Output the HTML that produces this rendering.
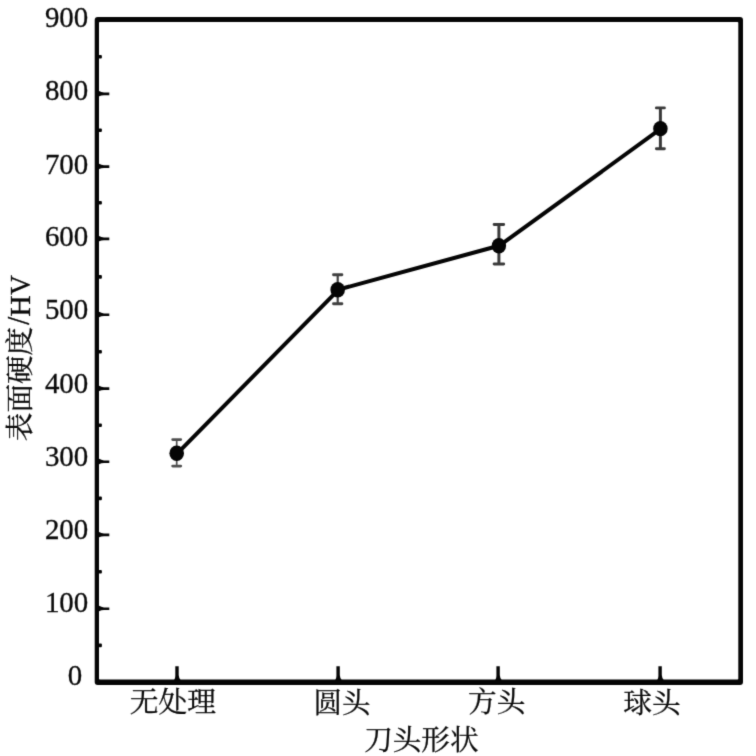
<!DOCTYPE html>
<html lang="zh">
<head>
<meta charset="utf-8">
<title>刀头形状 - 表面硬度/HV</title>
<style>
html,body{margin:0;padding:0;background:#fff;}
body{width:756px;height:756px;overflow:hidden;font-family:"Liberation Serif","Noto Serif CJK SC",serif;}
svg{display:block;}
text{font-family:"Liberation Serif","Noto Serif CJK SC",serif;fill:#0a0a0a;stroke:#0a0a0a;stroke-width:0.3px;}
.num{font-size:29.6px;text-anchor:end;}
.cjk{text-anchor:middle;}
</style>
</head>
<body>
<svg width="756" height="756" viewBox="0 0 756 756">
<defs><filter id="soft" filterUnits="userSpaceOnUse" x="0" y="0" width="756" height="756" color-interpolation-filters="sRGB"><feConvolveMatrix order="3" kernelMatrix="0.0169 0.0962 0.0169 0.0962 0.5476 0.0962 0.0169 0.0962 0.0169" divisor="1" edgeMode="duplicate" preserveAlpha="false"/></filter></defs>
<rect width="756" height="756" fill="#fff"/>
<g filter="url(#soft)">
<path fill="#050505" fill-rule="evenodd" d="M97.7 17.1 H740 Q743 17.1 743 20.1 V681.9 Q743 684.9 740 684.9 H97.7 Q94.7 684.9 94.7 681.9 V20.1 Q94.7 17.1 97.7 17.1 Z M99.8 21.9 H737.5 Q738.3 21.9 738.3 22.7 V678.8 Q738.3 679.6 737.5 679.6 H99.8 Q99 679.6 99 678.8 V22.7 Q99 21.9 99.8 21.9 Z"/>
<g fill="#050505">
<path d="M98.5 605.6 Q101.5 607.4 104 607.4 H109.3 V610.1 H104 Q101.5 610.1 98.5 611.4 Z"/>
<path d="M98.5 531.7 Q101.5 533.5 104 533.5 H109.3 V536.2 H104 Q101.5 536.2 98.5 537.5 Z"/>
<path d="M98.5 458.6 Q101.5 460.4 104 460.4 H109.3 V463.1 H104 Q101.5 463.1 98.5 464.4 Z"/>
<path d="M98.5 385.5 Q101.5 387.3 104 387.3 H109.3 V390.0 H104 Q101.5 390.0 98.5 391.3 Z"/>
<path d="M98.5 311.6 Q101.5 313.4 104 313.4 H109.3 V316.1 H104 Q101.5 316.1 98.5 317.4 Z"/>
<path d="M98.5 235.7 Q101.5 237.5 104 237.5 H109.3 V240.2 H104 Q101.5 240.2 98.5 241.5 Z"/>
<path d="M98.5 163.5 Q101.5 165.3 104 165.3 H109.3 V168.0 H104 Q101.5 168.0 98.5 169.3 Z"/>
<path d="M98.5 90.8 Q101.5 92.6 104 92.6 H109.3 V95.3 H104 Q101.5 95.3 98.5 96.6 Z"/>
<rect x="98.5" y="643.6" width="3.4" height="3.6" rx="1"/>
<rect x="98.5" y="570.0" width="3.4" height="3.6" rx="1"/>
<rect x="98.5" y="496.6" width="3.4" height="3.6" rx="1"/>
<rect x="98.5" y="423.4" width="3.4" height="3.6" rx="1"/>
<rect x="98.5" y="349.9" width="3.4" height="3.6" rx="1"/>
<rect x="98.5" y="275.1" width="3.4" height="3.6" rx="1"/>
<rect x="98.5" y="201.0" width="3.4" height="3.6" rx="1"/>
<rect x="98.5" y="128.5" width="3.4" height="3.6" rx="1"/>
<rect x="98.5" y="55.0" width="3.4" height="3.6" rx="1"/>
<path d="M175.3 666.2 H178.7 V675 Q178.8 678 180.8 680.2 H174.0 Q175.3 678.5 175.3 676 Z"/>
<path d="M336.4 666.2 H339.8 V675 Q339.9 678 341.9 680.2 H335.1 Q336.4 678.5 336.4 676 Z"/>
<path d="M496.4 666.2 H499.8 V675 Q499.9 678 501.9 680.2 H495.1 Q496.4 678.5 496.4 676 Z"/>
<path d="M658.4 666.2 H661.8 V675 Q661.9 678 663.9 680.2 H657.1 Q658.4 678.5 658.4 676 Z"/>
</g>
<g>
<text class="num" transform="translate(82.2 684.9) scale(0.978 1)">0</text>
<text class="num" transform="translate(88.3 611.8) scale(0.978 1)">100</text>
<text class="num" transform="translate(88.3 538.7) scale(0.978 1)">200</text>
<text class="num" transform="translate(88.3 465.7) scale(0.978 1)">300</text>
<text class="num" transform="translate(88.3 392.8) scale(0.978 1)">400</text>
<text class="num" transform="translate(88.3 319.4) scale(0.978 1)">500</text>
<text class="num" transform="translate(88.3 246.3) scale(0.978 1)">600</text>
<text class="num" transform="translate(88.3 173.5) scale(0.978 1)">700</text>
<text class="num" transform="translate(88.3 100.0) scale(0.978 1)">800</text>
<text class="num" transform="translate(88.3 27.3) scale(0.978 1)">900</text>
<text class="cjk" transform="translate(19.60 384.00) rotate(-90)" x="0" y="10.7" style="font-size:28.6px">表面硬度</text>
<text transform="translate(19.25 320.80) rotate(-90) scale(0.9761 1.0692) translate(-4.10 9.58)" style="font-size:29.5px">/</text><text transform="translate(19.85 306.10) rotate(-90) scale(1.0107 1.0302) translate(-10.64 9.66)" style="font-size:29.5px">H</text><text transform="translate(20.07 284.90) rotate(-90) scale(0.9399 1.0297) translate(-10.65 9.43)" style="font-size:29.5px">V</text>
</g>
<g>
<text class="cjk" x="172.9" y="711.8" style="font-size:28.8px">无处理</text>
<text class="cjk" x="342.0" y="712.5" style="font-size:28.5px">圆头</text>
<text class="cjk" x="496.8" y="712.4" style="font-size:28.7px">方头</text>
<text class="cjk" x="651.9" y="712.5" style="font-size:28.7px">球头</text>
<text class="cjk" x="421.35" y="749.75" style="font-size:28.6px">刀头形状</text>
</g>
<g stroke="#404040" fill="none">
<path stroke="#505050" stroke-width="1.7" d="M176.7 439.6 V466.1"/><path stroke="#505050" stroke-width="2.9" stroke-linecap="round" d="M172.7 439.6 H180.7 M172.7 466.1 H180.7"/>
<path stroke="#404040" stroke-width="2.2" d="M337.7 274.7 V303.7"/><path stroke="#404040" stroke-width="2.9" stroke-linecap="round" d="M333.5 274.7 H341.9 M333.5 303.7 H341.9"/>
<path stroke="#3a3a3a" stroke-width="3.0" d="M498.9 224.5 V264.0"/><path stroke="#3a3a3a" stroke-width="2.9" stroke-linecap="round" d="M494.1 224.5 H503.7 M494.1 264.0 H503.7"/>
<path stroke="#3a3a3a" stroke-width="3.0" d="M660.4 107.9 V148.8"/><path stroke="#3a3a3a" stroke-width="2.9" stroke-linecap="round" d="M656.4 107.9 H664.4 M656.4 148.8 H664.4"/>
</g>
<path fill="none" stroke="#050505" stroke-width="4.0" stroke-linecap="round" d="M177.10 453.70 L338.10 290.20 M337.70 289.80 L498.90 245.70 M499.05 245.95 L660.55 128.95"/>
<ellipse cx="176.7" cy="453.3" rx="7.3" ry="7.8" fill="#050505"/>
<ellipse cx="337.7" cy="289.8" rx="7.3" ry="7.7" fill="#050505"/>
<ellipse cx="498.9" cy="245.7" rx="7.2" ry="7.8" fill="#050505"/>
<ellipse cx="660.4" cy="128.7" rx="7.25" ry="7.65" fill="#050505"/>
</g>
</svg>
</body>
</html>
